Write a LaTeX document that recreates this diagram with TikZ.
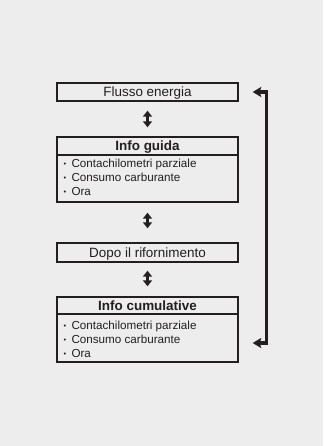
\documentclass[tikz,border=0pt]{standalone}
\usepackage{fontspec}
\setmainfont{Liberation Sans}
\usetikzlibrary{arrows.meta}
\definecolor{bg}{HTML}{EDEDED}
\definecolor{ink}{HTML}{231F20}
\newcommand{\itemdot}{\raisebox{0.15ex}{\fontsize{7.5}{8}\selectfont •}\hspace{5.2bp}}
\tikzset{
  box/.style={draw=ink, line width=1.4bp, fill=bg, inner sep=0pt, minimum width=181bp, text=ink},
  head/.style={font=\fontsize{13.5}{15}\selectfont, text=ink, inner sep=0pt},
  item/.style={font=\fontsize{11.7}{13}\selectfont, text=ink, inner sep=0pt, anchor=base west},
  dbl/.style={draw=ink, line width=2.8bp, {Triangle[width=9bp,length=6bp]}-{Triangle[width=9bp,length=6bp]}},
  ret/.style={draw=ink, line width=3.4bp, miter limit=10, {Stealth[width=10bp,length=8.5bp,inset=1.5bp]}-{Stealth[width=10bp,length=8.5bp,inset=1.5bp]}}
}
\begin{document}
\begin{tikzpicture}[x=1bp,y=-1bp]
\fill[bg] (0,0) rectangle (323,446);
\useasboundingbox (0,0) rectangle (323,446);
% Flusso energia
\node[box, minimum height=18bp] (flusso) at (147.5,92) {};
\node[head, anchor=base] (flussot) at (147.5,97) {Flusso energia};
% Info guida
\node[box, minimum height=65bp] (guida) at (147.5,169.5) {};
\node[head, anchor=base, font=\fontsize{13.5}{15}\selectfont\bfseries] (guidat) at (147.5,151) {Info guida};
\draw[draw=ink, line width=1.4bp] (guida.west |- 0,155) -- (guida.east |- 0,155);
\node[item] (g1) at (63.5,167.5) {\itemdot Contachilometri parziale};
\node[item] (g2) at (63.5,181.5) {\itemdot Consumo carburante};
\node[item] (g3) at (63.5,195.5) {\itemdot Ora};
% Dopo il rifornimento
\node[box, minimum height=19bp] (dopo) at (147.5,252.5) {};
\node[head, anchor=base] (dopot) at (147.5,257.5) {Dopo il rifornimento};
% Info cumulative
\node[box, minimum height=65bp] (cum) at (147.5,329.5) {};
\node[head, anchor=base, font=\fontsize{13.5}{15}\selectfont\bfseries] (cumt) at (147.5,310.5) {Info cumulative};
\draw[draw=ink, line width=1.4bp] (cum.west |- 0,314) -- (cum.east |- 0,314);
\node[item] (c1) at (63.5,329.5) {\itemdot Contachilometri parziale};
\node[item] (c2) at (63.5,343.5) {\itemdot Consumo carburante};
\node[item] (c3) at (63.5,357.5) {\itemdot Ora};
% double arrows
\draw[dbl] ([yshift=-9bp]flusso.south) -- ([yshift=9bp]guida.north);
\draw[dbl] ([yshift=-10bp]guida.south) -- ([yshift=14bp]dopo.north);
\draw[dbl] ([yshift=-8bp]dopo.south) -- ([yshift=10bp]cum.north);
% return connector
\coordinate (rt) at ([xshift=14bp]flusso.east);
\coordinate (rb) at ([xshift=14bp,yshift=-13.5bp]cum.east);
\draw[ret] (rt) -- ++(14,0) |- (rb);
\end{tikzpicture}
\end{document}
